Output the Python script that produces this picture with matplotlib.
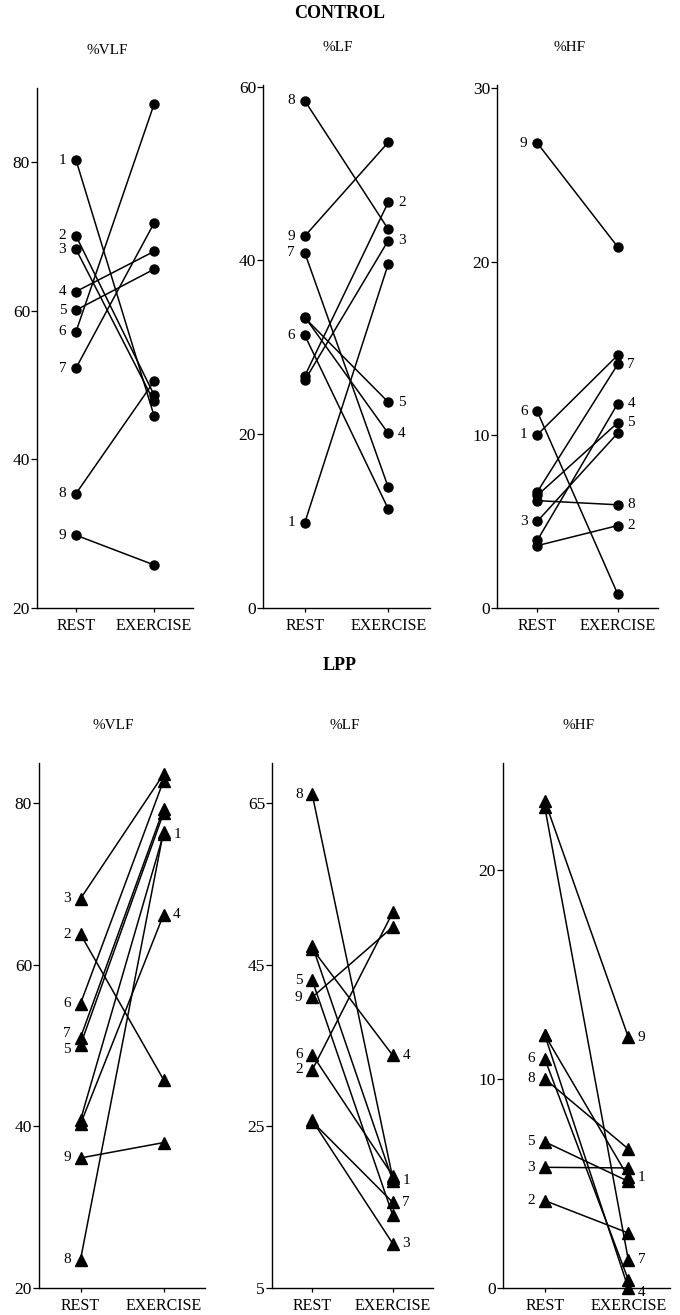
import numpy as np
import matplotlib.pyplot as plt

plt.rcParams['font.family'] = ['Liberation Serif', 'DejaVu Serif']

subjects = [1, 2, 3, 4, 5, 6, 7, 8, 9]
conditions = ['REST', 'EXERCISE']

# CONTROL group
ctl_vlf_rest = [80.3, 70.1, 68.3, 62.6, 60.1, 57.2, 52.3, 35.4, 29.8]
ctl_vlf_ex = [45.9, 48.7, 47.8, 68.0, 65.6, 87.8, 71.8, 50.5, 25.8]
ctl_lf_rest = [9.8, 26.7, 26.2, 33.5, 33.4, 31.4, 40.9, 58.4, 42.8]
ctl_lf_ex = [39.6, 46.7, 42.3, 20.1, 23.7, 11.4, 13.9, 43.6, 53.6]
ctl_hf_rest = [10.0, 3.6, 5.0, 3.9, 6.5, 11.35, 6.7, 6.2, 26.85]
ctl_hf_ex = [14.6, 4.76, 10.1, 11.8, 10.7, 0.8, 14.07, 5.96, 20.85]

# LPP group
lpp_vlf_rest = [40.8, 63.8, 68.2, 40.3, 50.1, 55.2, 51.0, 23.5, 36.1]
lpp_vlf_ex = [76.2, 45.8, 83.6, 66.2, 78.8, 82.8, 79.3, 76.5, 38.0]
lpp_lf_rest = [47.4, 32.0, 25.75, 47.0, 43.1, 33.9, 25.6, 66.1, 41.0]
lpp_lf_ex = [18.3, 51.5, 10.5, 33.8, 14.0, 18.9, 15.6, 18.6, 49.7]
lpp_hf_rest = [12.1, 4.18, 5.77, 12.1, 6.99, 10.96, 23.0, 10.0, 23.3]
lpp_hf_ex = [5.3, 2.63, 5.74, 0.0, 5.1, 0.4, 1.36, 6.65, 12.0]

# which subject numbers are written beside the points
ctl_vlf_lab = ([1, 2, 3, 4, 5, 6, 7, 8, 9], [])
ctl_lf_lab = ([1, 6, 7, 8, 9], [2, 3, 4, 5])
ctl_hf_lab = ([1, 3, 6, 9], [2, 4, 5, 7, 8])
lpp_vlf_lab = ([2, 3, 5, 6, 7, 8, 9], [1, 4])
lpp_lf_lab = ([2, 5, 6, 8, 9], [1, 3, 4, 7])
lpp_hf_lab = ([2, 3, 5, 6, 8], [1, 4, 7, 9])

W, H = 680, 1315
fig = plt.figure(figsize=(W / 100, H / 100), dpi=100)


def box(x0, x1, top, bottom):
    return [x0 / W, 1 - bottom / H, (x1 - x0) / W, (bottom - top) / H]


def panel(rect, title, rest, ex, labels, ylim, yticks, marker, ms, nudge=None):
    nudge = nudge or {}
    ax = fig.add_axes(rect)
    for r, e in zip(rest, ex):
        ax.plot([1, 2], [r, e], color='black', lw=1.1, marker=marker, ms=ms,
                mfc='black', mec='black', clip_on=False, zorder=3)
    for s in labels[0]:
        ax.annotate(str(s), (1, rest[s - 1]), xytext=(-7, nudge.get(('r', s), 0)),
                    textcoords='offset points', ha='right', va='center', fontsize=11)
    for s in labels[1]:
        ax.annotate(str(s), (2, ex[s - 1]), xytext=(7, nudge.get(('e', s), 0)),
                    textcoords='offset points', ha='left', va='center', fontsize=11)
    ax.set_xlim(0.5, 2.5)
    ax.set_ylim(*ylim)
    ax.set_yticks(yticks)
    ax.set_xticks([1, 2])
    ax.set_xticklabels(conditions, fontsize=11.5)
    ax.tick_params(axis='y', labelsize=12.5, length=4, width=0.9, pad=1)
    ax.tick_params(axis='x', length=3, width=0.9, pad=4)
    ax.spines['top'].set_visible(False)
    ax.spines['right'].set_visible(False)
    ax.spines['left'].set_linewidth(1.0)
    ax.spines['bottom'].set_linewidth(1.0)
    ax.patch.set_alpha(0)
    ax.annotate(title, (1.4, 1), xycoords=('data', 'axes fraction'), xytext=(0, 27),
                textcoords='offset points', ha='center', va='center', fontsize=11)
    return ax


panel(box(37, 193, 88, 608), '%VLF', ctl_vlf_rest, ctl_vlf_ex, ctl_vlf_lab,
      (20, 90), [20, 40, 60, 80], 'o', 6.5)
panel(box(263, 430, 85, 608), '%LF', ctl_lf_rest, ctl_lf_ex, ctl_lf_lab,
      (0, 60.2), [0, 20, 40, 60], 'o', 6.5)
panel(box(497, 658, 85, 608), '%HF', ctl_hf_rest, ctl_hf_ex, ctl_hf_lab,
      (0, 30.2), [0, 10, 20, 30], 'o', 6.5)

panel(box(39, 205, 763, 1288), '%VLF', lpp_vlf_rest, lpp_vlf_ex, lpp_vlf_lab,
      (20, 85), [20, 40, 60, 80], '^', 8, {('r', 7): 3, ('r', 5): -3})
panel(box(272, 433, 763, 1288), '%LF', lpp_lf_rest, lpp_lf_ex, lpp_lf_lab,
      (5, 70), [5, 25, 45, 65], '^', 8)
panel(box(503, 670, 763, 1288), '%HF', lpp_hf_rest, lpp_hf_ex, lpp_hf_lab,
      (0, 25.1), [0, 10, 20], '^', 8, {('e', 4): -3})

fig.text(0.5, 1 - 14 / H, 'CONTROL', ha='center', va='center', fontsize=13, fontweight='bold')
fig.text(0.5, 1 - 665 / H, 'LPP', ha='center', va='center', fontsize=13, fontweight='bold')

fig.savefig('out.png', dpi=100)
